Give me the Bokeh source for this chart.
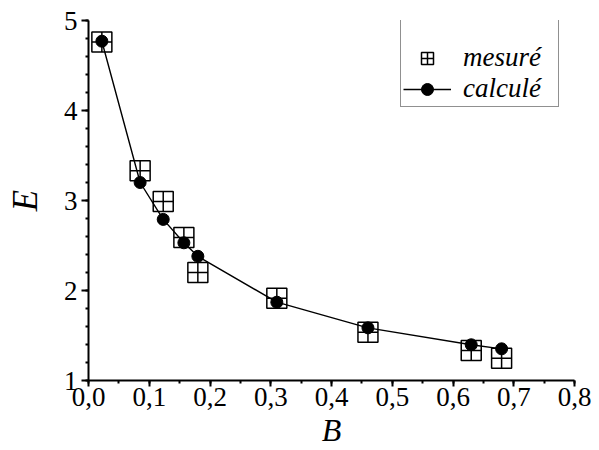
from bokeh.plotting import figure
from bokeh.models import (SingleIntervalTicker, CustomJSTickFormatter, Legend,
                          LegendItem, Range1d)
from bokeh.embed import file_html
from bokeh.resources import INLINE

# Data
B_values = [0.022, 0.085, 0.123, 0.157, 0.180, 0.310, 0.460, 0.630, 0.680]
E_mesure = [4.76, 3.33, 2.99, 2.59, 2.20, 1.915, 1.535, 1.333, 1.248]
E_calcule = [4.77, 3.20, 2.79, 2.53, 2.38, 1.87, 1.585, 1.397, 1.352]
label_mesure = "mesuré"
label_calcule = "calculé"
x_label = "B"
y_label = "E"

SERIF = "Liberation Serif"

p = figure(width=599, height=450, output_backend="svg", toolbar_location=None,
           x_range=Range1d(0, 0.8), y_range=Range1d(1, 5),
           min_border_left=88, min_border_right=25, min_border_top=20,
           min_border_bottom=70)

p.xgrid.visible = False
p.ygrid.visible = False
p.outline_line_color = None
p.background_fill_color = "white"
p.border_fill_color = "white"

r_sq = p.scatter(B_values, E_mesure, marker="square_cross", size=20,
                 fill_color=None, line_color="black", line_width=1.5)
r_line = p.line(B_values, E_calcule, line_color="black", line_width=1.4)
r_circ = p.scatter(B_values, E_calcule, marker="circle", size=12,
                   fill_color="black", line_color="black", line_width=1)

for ax in (p.xaxis[0], p.yaxis[0]):
    ax.axis_line_width = 2
    ax.axis_line_color = "black"
    ax.major_tick_line_width = 2
    ax.minor_tick_line_width = 2
    ax.major_tick_line_color = "black"
    ax.minor_tick_line_color = "black"
    ax.major_tick_in = 0
    ax.minor_tick_in = 0
    ax.major_label_text_font = SERIF
    ax.major_label_text_font_size = "27px"
    ax.major_label_text_color = "black"
    ax.axis_label_text_font = SERIF
    ax.axis_label_text_font_style = "italic"
    ax.axis_label_text_color = "black"

p.xaxis.ticker = SingleIntervalTicker(interval=0.1, num_minor_ticks=2)
p.yaxis.ticker = SingleIntervalTicker(interval=1, num_minor_ticks=5)
p.xaxis.formatter = CustomJSTickFormatter(code="return tick.toFixed(1).replace('.', ',');")
p.yaxis.formatter = CustomJSTickFormatter(code="return tick.toFixed(0);")

p.xaxis.major_tick_out = 6
p.xaxis.minor_tick_out = 3
p.yaxis.major_tick_out = 7
p.yaxis.minor_tick_out = 3
p.xaxis.major_label_standoff = 1
p.yaxis.major_label_standoff = 4

p.xaxis.axis_label = x_label
p.yaxis.axis_label = y_label
p.xaxis.axis_label_text_font_size = "32px"
p.yaxis.axis_label_text_font_size = "35px"
p.xaxis.axis_label_standoff = 3
p.yaxis.axis_label_standoff = 16

legend = Legend(items=[LegendItem(label=label_mesure, renderers=[r_sq]),
                       LegendItem(label=label_calcule, renderers=[r_line, r_circ])],
                location=(312, 273))
legend.title = " "
legend.title_text_font_size = "20px"
legend.title_standoff = 1
legend.padding = 2
legend.spacing = -3
legend.glyph_height = 30
legend.glyph_width = 48
legend.label_standoff = 12
legend.label_width = 93
legend.label_text_font = SERIF
legend.label_text_font_style = "italic"
legend.label_text_font_size = "27px"
legend.label_text_color = "black"
legend.border_line_color = "#222222"
legend.border_line_width = 1
legend.background_fill_color = "white"
legend.background_fill_alpha = 1
legend.margin = 0
p.add_layout(legend, "center")

open("out.html", "w").write(file_html(p, INLINE))
